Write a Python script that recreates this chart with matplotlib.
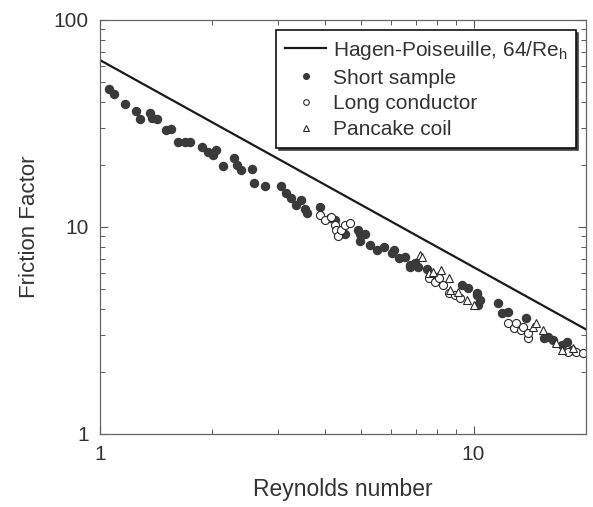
import numpy as np
import matplotlib
matplotlib.use("Agg")
import matplotlib.pyplot as plt
from matplotlib.ticker import LogLocator, NullFormatter, FixedLocator, FixedFormatter

plt.rcParams['font.family'] = ['Liberation Sans', 'DejaVu Sans']

# Short sample (Reynolds number, friction factor)
short_re = [1.06, 1.09, 1.17, 1.25, 1.28, 1.36, 1.38, 1.42, 1.50, 1.55,
            1.62, 1.69, 1.74, 1.88, 1.95, 2.01, 2.04, 2.13, 2.29, 2.33,
            2.39, 2.56, 2.59, 2.77, 3.06, 3.15, 3.25, 3.35, 3.45, 3.54,
            3.58, 3.88, 4.12, 4.25, 4.38, 4.52, 4.90, 4.98, 5.13, 4.98,
            5.27, 5.53, 5.77, 6.05, 6.13, 6.32, 6.55, 6.77, 6.97, 6.77,
            7.10, 7.50, 7.96, 9.30, 9.68, 10.2, 10.4, 10.2, 10.3, 11.65,
            11.9, 12.35, 13.8, 15.4, 15.8, 16.3, 17.3, 17.8, 18.4]
short_f = [46.4, 43.9, 39.3, 36.3, 33.2, 35.5, 33.6, 33.2, 29.4, 29.7,
           25.7, 25.7, 25.7, 24.3, 23.0, 22.3, 23.5, 19.7, 21.5, 19.9,
           18.9, 19.1, 16.3, 15.8, 15.8, 14.6, 13.8, 12.8, 13.5, 12.2,
           11.7, 12.5, 11.0, 10.8, 9.3, 9.2, 9.7, 9.2, 9.3, 8.56,
           8.19, 7.74, 8.0, 7.5, 7.74, 7.08, 7.2, 6.55, 6.7, 6.41,
           6.4, 6.3, 5.73, 5.25, 5.1, 4.69, 4.44, 4.8, 4.2, 4.29,
           3.84, 3.9, 3.63, 2.91, 2.94, 2.85, 2.69, 2.78, 2.55]

# Long conductor
long_re = [3.88, 4.0, 4.15, 4.25, 4.28, 4.33, 4.41, 4.52, 4.66,
           7.6, 7.9, 8.1, 8.3, 8.6, 8.9, 9.2,
           12.4, 12.8, 13.0, 13.4, 13.6, 13.95, 14.0, 17.9, 18.8, 19.6]
long_f = [11.4, 10.8, 11.2, 10.2, 9.7, 9.05, 9.7, 10.2, 10.5,
          5.67, 5.42, 5.67, 5.25, 4.8, 4.69, 4.54,
          3.44, 3.25, 3.44, 3.18, 3.28, 2.91, 3.07, 2.49, 2.49, 2.46]

# Pancake coil
coil_re = [7.2, 7.27, 7.6, 7.8, 8.2, 8.6, 8.65, 9.1, 9.6, 10.0,
           14.4, 14.7, 15.3, 16.6, 17.3, 18.5]
coil_f = [7.33, 7.2, 6.0, 6.07, 6.2, 5.67, 4.96, 4.85, 4.44, 4.2,
          3.28, 3.44, 3.18, 2.75, 2.55, 2.6]

# Hagen-Poiseuille laminar law f = 64/Re
hp_re = np.array([1.0, 20.0])
hp_f = 64.0 / hp_re

fig = plt.figure(figsize=(5.93, 5.07), dpi=100)
ax = fig.add_axes([0.1686, 0.144, 0.8196, 0.8166])

ax.plot(hp_re, hp_f, color='#1a1a1a', lw=1.6, label='Hagen-Poiseuille, 64/Re$_\\mathregular{h}$')
ax.plot(short_re, short_f, 'o', ms=5.8, color='#3a3a3a', mec='#3a3a3a', label='Short sample')
ax.plot(long_re, long_f, 'o', ms=5.8, mfc='white', mec='#2a2a2a', mew=0.8, label='Long conductor')
ax.plot(coil_re, coil_f, '^', ms=6.2, mfc='white', mec='#2a2a2a', mew=0.8, label='Pancake coil')

ax.set_xscale('log')
ax.set_yscale('log')
ax.set_xlim(1, 20)
ax.set_ylim(1, 100)

ax.xaxis.set_major_locator(FixedLocator([1, 10]))
ax.xaxis.set_major_formatter(FixedFormatter(['1', '10']))
ax.yaxis.set_major_locator(FixedLocator([1, 10, 100]))
ax.yaxis.set_major_formatter(FixedFormatter(['1', '10', '100']))
ax.xaxis.set_minor_locator(LogLocator(base=10, subs=np.arange(2, 10)))
ax.yaxis.set_minor_locator(LogLocator(base=10, subs=np.arange(2, 10)))
ax.xaxis.set_minor_formatter(NullFormatter())
ax.yaxis.set_minor_formatter(NullFormatter())

ax.tick_params(which='both', direction='in', top=True, right=True,
               color='0.35', labelsize=15, labelcolor='#333333')
ax.tick_params(which='major', length=6, width=0.8, pad=8)
ax.tick_params(which='minor', length=3.5, width=0.7)
for s in ax.spines.values():
    s.set_color('0.4')
    s.set_linewidth(0.9)

ax.set_xlabel('Reynolds number', fontsize=16.5, color='#333333', labelpad=10)
ax.set_ylabel('Friction Factor', fontsize=16, color='#333333', labelpad=10)

leg = ax.legend(loc='upper right', fontsize=15, frameon=True, fancybox=False,
                framealpha=1, edgecolor='#111111', labelspacing=0.33,
                handlelength=2.0, handletextpad=0.3, borderpad=0.4,
                markerscale=0.7, shadow={'color': '0.25', 'alpha': 1})
leg.get_frame().set_linewidth(1.2)
for t in leg.get_texts():
    t.set_color('#333333')

fig.savefig('out.png', dpi=100)
